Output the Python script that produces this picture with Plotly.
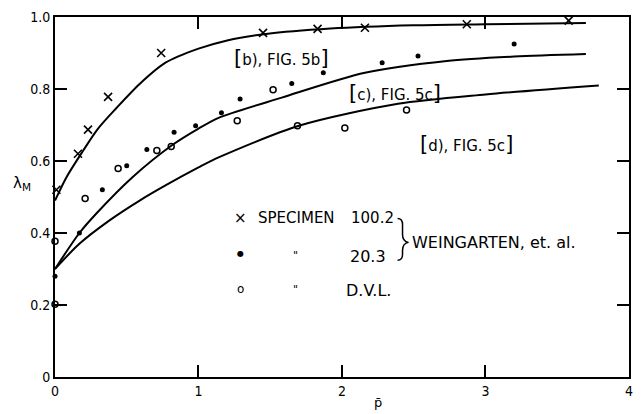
import plotly.graph_objects as go

# ---- data ----
spec100_x = [0.01, 0.16, 0.23, 0.37, 0.74, 1.45, 1.83, 2.16, 2.87, 3.58]
spec100_y = [0.52, 0.62, 0.687, 0.778, 0.90, 0.956, 0.967, 0.97, 0.98, 0.99]

spec20_x = [0.0, 0.17, 0.33, 0.50, 0.64, 0.83, 0.98, 1.16, 1.29, 1.65, 1.87, 2.28, 2.53, 3.2]
spec20_y = [0.28, 0.40, 0.52, 0.587, 0.632, 0.68, 0.698, 0.734, 0.772, 0.815, 0.845, 0.873, 0.892, 0.925]

dvl_x = [0.0, 0.0, 0.21, 0.44, 0.71, 0.81, 1.27, 1.52, 1.69, 2.02, 2.45]
dvl_y = [0.377, 0.202, 0.496, 0.579, 0.629, 0.64, 0.712, 0.798, 0.698, 0.692, 0.742]

curve_b_x = [0, 0.08, 0.19, 0.30, 0.43, 0.59, 0.77, 1.0, 1.2, 1.47, 1.92, 2.5, 3.0, 3.7]
curve_b_y = [0.49, 0.555, 0.625, 0.69, 0.748, 0.814, 0.873, 0.912, 0.935, 0.953, 0.968, 0.977, 0.98, 0.983]

curve_c_x = [0, 0.17, 0.29, 0.54, 0.82, 1.0, 1.14, 1.58, 2.16, 2.73, 3.2, 3.7]
curve_c_y = [0.30, 0.40, 0.455, 0.555, 0.645, 0.69, 0.72, 0.776, 0.845, 0.878, 0.89, 0.897]

curve_d_x = [0, 0.17, 0.38, 0.59, 0.77, 1.0, 1.14, 1.7, 2.39, 3.0, 3.79]
curve_d_y = [0.30, 0.37, 0.435, 0.49, 0.532, 0.582, 0.61, 0.698, 0.759, 0.785, 0.81]

x_ticks = [0, 1, 2, 3, 4]
x_tick_text = ["0", "1", "2", "3", "4"]
y_ticks = [0, 0.2, 0.4, 0.6, 0.8, 1.0]
y_tick_text = ["0", "0.2", "0.4", "0.6", "0.8", "1.0"]

FONT = "Liberation Sans Narrow, DejaVu Sans Condensed, Arial Narrow, sans-serif"
TXT = "DejaVu Sans, sans-serif"

fig = go.Figure()
for cx, cy in [(curve_b_x, curve_b_y), (curve_c_x, curve_c_y), (curve_d_x, curve_d_y)]:
    fig.add_trace(go.Scatter(x=cx, y=cy, mode="lines",
                             line=dict(color="black", width=2, shape="spline", smoothing=0.8),
                             hoverinfo="skip"))

fig.add_trace(go.Scatter(x=spec100_x, y=spec100_y, mode="markers",
                         marker=dict(symbol="x-thin", size=8, line=dict(color="black", width=1.6)),
                         cliponaxis=False))
fig.add_trace(go.Scatter(x=spec20_x, y=spec20_y, mode="markers",
                         marker=dict(symbol="circle", size=5, color="black"),
                         cliponaxis=False))
fig.add_trace(go.Scatter(x=dvl_x, y=dvl_y, mode="markers",
                         marker=dict(symbol="circle-open", size=6, color="black", line=dict(width=1.5)),
                         cliponaxis=False))

def px2x(px):
    return (px - 55) / 144.5

def py2y(py):
    return (377 - py) / 361.0

def note(text, px, py, size=15, xanchor="center", font=TXT):
    fig.add_annotation(x=px2x(px), y=py2y(py), xref="x", yref="y", text=text,
                       showarrow=False, xanchor=xanchor, yanchor="middle",
                       font=dict(family=font, size=size, color="black"))

big = "<span style='font-size:21px'>%s</span>"
note(big % "[" + "b), FIG. 5b" + big % "]", 283, 57)
note(big % "[" + "c), FIG. 5c" + big % "]", 397, 92)
note(big % "[" + "d), FIG. 5c" + big % "]", 469, 143)

# legend block
note("×", 242, 218, size=15)
note("●", 242, 253, size=8)
note("o", 242, 289, size=12)
note("SPECIMEN", 257, 218, size=15, xanchor="left")
note("100.2", 398, 218, size=15, xanchor="right")
note("\"", 297, 255, size=11)
note("\"", 297, 289, size=11)
note("20.3", 390, 256, size=16, xanchor="right")
note("D.V.L.", 346, 290, size=16, xanchor="left")
note("WEINGARTEN, et. al.", 413, 242, size=16, xanchor="left")

# brace
pts = "M {},{} Q {},{} {},{} L {},{} Q {},{} {},{} Q {},{} {},{} L {},{} Q {},{} {},{}".format(
    px2x(400), py2y(218), px2x(405), py2y(218), px2x(405), py2y(224),
    px2x(405), py2y(234), px2x(405), py2y(241), px2x(411), py2y(242),
    px2x(405), py2y(243), px2x(405), py2y(250),
    px2x(405), py2y(254), px2x(405), py2y(260), px2x(400), py2y(260))
fig.add_shape(type="path", path=pts, xref="x", yref="y", line=dict(color="black", width=1.5))

# axis titles
fig.add_annotation(x=(22 - 55) / 578, y=(377 - 183) / 361, xref="paper", yref="paper",
                   text="λ<sub>M</sub>", showarrow=False, xanchor="center", yanchor="middle",
                   font=dict(family=TXT, size=15, color="black"))
fig.add_annotation(x=(380 - 55) / 578, y=(377 - 403) / 361, xref="paper", yref="paper",
                   text="p\u0304", showarrow=False, xanchor="center", yanchor="middle",
                   font=dict(family=TXT, size=13, color="black"))

axis_common = dict(showgrid=False, zeroline=False, showline=True, linecolor="black",
                   ticks="inside", ticklen=12, tickwidth=1.5, tickcolor="black",
                   mirror="ticks", tickfont=dict(family=FONT, size=14, color="black"))
fig.update_xaxes(range=[0, 4.0005], tickvals=x_ticks, ticktext=x_tick_text, linewidth=2, **axis_common)
fig.update_yaxes(range=[0, 1], tickvals=y_ticks, ticktext=y_tick_text, linewidth=2, **axis_common)

fig.update_layout(width=642, height=414, margin=dict(l=55, r=9, t=16, b=37),
                  paper_bgcolor="white", plot_bgcolor="white", showlegend=False)

fig.write_html("out.html", config={"displayModeBar": False},
               post_script="document.body.style.margin='0';document.body.style.overflow='hidden';")
